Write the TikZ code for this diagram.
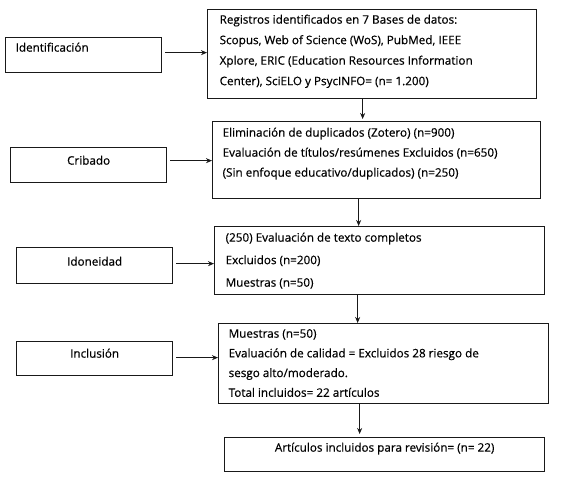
\documentclass[tikz,border=0pt]{standalone}
\usepackage{fontspec}
\setmainfont{Open Sans}[FakeBold=0.5]
\usetikzlibrary{arrows.meta}
\newcommand{\bxt}[6]{\parbox[t][#1][t]{#2}{#3\setlength{\baselineskip}{#4}\rule{0pt}{#5}#6}}
\begin{document}
\begin{tikzpicture}[x=1pt,y=-1pt,
  fbox/.style={draw=black!90, line width=1.3pt, inner sep=0pt, anchor=north west,
    text=black, font=\fontsize{11.7}{13}\selectfont},
  arr/.style={draw=black!90, line width=1pt, -{Stealth[length=6pt,width=5pt]}}]
\useasboundingbox[fill=white] (0,0) rectangle (565,482);
% left labels
\node[fbox] (ident) at (5,37) {\bxt{35pt}{156pt}{\raggedright\leftskip=10pt}{20pt}{14pt}{Identificación}};
\node[fbox] (crib) at (10,147) {\bxt{35pt}{156pt}{\centering}{20pt}{17pt}{Cribado}};
\node[fbox] (idon) at (16,247) {\bxt{36pt}{156pt}{\centering}{20pt}{18pt}{Idoneidad}};
\node[fbox] (incl) at (16,341) {\bxt{34pt}{156pt}{\centering}{20pt}{16pt}{Inclusión}};
% main boxes
\node[fbox] (b1) at (207,9) {\bxt{89pt}{329pt}{\raggedright\leftskip=12pt}{20.5pt}{14pt}{Registros identificados en 7 Bases de datos:\\ Scopus, Web of Science (WoS), PubMed, IEEE\\ Xplore, ERIC (Education Resources Information\\ Center), SciELO y PsycINFO= (n= 1.200)}};
\node[fbox] (b2) at (212,121) {\bxt{77pt}{328pt}{\raggedright\leftskip=10pt}{20pt}{15pt}{Eliminación de duplicados (Zotero) (n=900)\\ Evaluación de títulos/resúmenes Excluidos (n=650)\\ (Sin enfoque educativo/duplicados) (n=250)}};
\node[fbox] (b3) at (214,226) {\bxt{68pt}{330pt}{\raggedright\leftskip=11pt}{22.5pt}{15pt}{(250) Evaluación de texto completos\\ Excluidos (n=200)\\ Muestras (n=50)}};
\node[fbox] (b4) at (218,323) {\bxt{80pt}{330pt}{\raggedright\leftskip=10pt}{19.7pt}{14pt}{Muestras (n=50)\\ Evaluación de calidad = Excluidos 28 riesgo de\\ sesgo alto/moderado.\\ Total incluidos= 22 artículos}};
\node[fbox] (b5) at (224,437) {\bxt{34pt}{320pt}{\centering}{20pt}{14pt}{Artículos incluidos para revisión= (n= 22)}};
% horizontal arrows
\draw[arr] ([xshift=3pt,yshift=2.5pt]ident.east) -- ([yshift=2.5pt]ident.east -| b1.west);
\draw[arr] ([xshift=3pt,yshift=4.5pt]crib.east) -- ([yshift=4.5pt]crib.east -| b2.west);
\draw[arr] ([xshift=3pt,yshift=2pt]idon.east) -- ([yshift=2pt]idon.east -| b3.west);
\draw[arr] ([xshift=3pt,yshift=1pt]incl.east) -- ([yshift=1pt]incl.east -| b4.west);
% vertical arrows
\draw[arr, shorten >=2pt] ([xshift=-9.5pt]b1.south) -- ([xshift=-9.5pt]b1.south |- b2.north);
\draw[arr] ([xshift=-18pt]b2.south) -- ([xshift=-18pt]b2.south |- b3.north);
\draw[arr] ([xshift=-22pt]b3.south) -- ([xshift=-22pt]b3.south |- b4.north);
\draw[arr, shorten >=3pt] ([xshift=-24pt]b4.south) -- ([xshift=-24pt]b4.south |- b5.north);
\end{tikzpicture}
\end{document}
